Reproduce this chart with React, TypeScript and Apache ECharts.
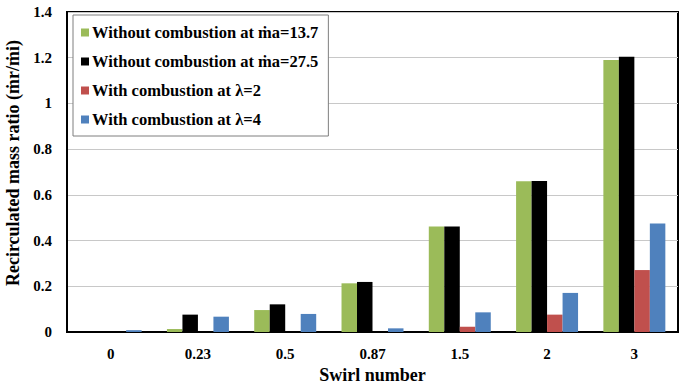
import React, { useEffect, useRef } from "react";
import * as echarts from "echarts";

const categories = ["0", "0.23", "0.5", "0.87", "1.5", "2", "3"];
const seriesNames = [
  "Without combustion at ṁa=13.7",
  "Without combustion at ṁa=27.5",
  "With combustion at λ=2",
  "With combustion at λ=4",
];
const noCombustion137 = [0, 0.013, 0.096, 0.213, 0.462, 0.66, 1.19];
const noCombustion275 = [0, 0.076, 0.121, 0.219, 0.462, 0.661, 1.204];
const combustionL2 = [0, 0, 0, 0, 0.023, 0.076, 0.271];
const combustionL4 = [0.008, 0.067, 0.079, 0.016, 0.086, 0.171, 0.475];
const colors = ["#9BBB59", "#000000", "#C0504D", "#4F81BD"];

const FONT = "'Liberation Serif', 'Times New Roman', serif";

export default function App() {
  const ref = useRef<HTMLDivElement>(null);
  useEffect(() => {
    if (!ref.current) return;
    const chart = echarts.init(ref.current, null, { renderer: "svg" });
    const dataSets = [noCombustion137, noCombustion275, combustionL2, combustionL4];
    chart.setOption({
      animation: false,
      backgroundColor: "#ffffff",
      textStyle: { fontFamily: FONT },
      grid: {
        left: 67,
        right: 8,
        top: 12,
        bottom: 53,
        outerBoundsMode: "none",
        containLabel: false,
        show: true,
        borderColor: "#000000",
        borderWidth: 2,
        backgroundColor: "transparent",
      },
      legend: {
        orient: "vertical",
        left: 73,
        top: 15,
        padding: [9, 10, 8, 8],
        itemGap: 12,
        itemWidth: 8,
        itemHeight: 8,
        icon: "rect",
        backgroundColor: "#ffffff",
        borderColor: "#7F7F7F",
        borderWidth: 1,
        borderRadius: 0,
        textStyle: {
          fontFamily: FONT,
          fontWeight: "bold",
          fontSize: 16.5,
          color: "#000000",
          lineHeight: 16,
          padding: [0, 0, 0, -2],
        },
        data: seriesNames,
      },
      xAxis: {
        type: "category",
        data: categories,
        name: "Swirl number",
        nameLocation: "middle",
        nameGap: 34,
        nameTextStyle: { fontFamily: FONT, fontWeight: "bold", fontSize: 18, color: "#000" },
        axisLine: { lineStyle: { color: "#000", width: 2 } },
        axisTick: { show: false },
        axisLabel: { fontFamily: FONT, fontWeight: "bold", fontSize: 15, color: "#000", margin: 14 },
      },
      yAxis: {
        type: "value",
        min: 0,
        max: 1.4,
        interval: 0.2,
        name: "Recirculated mass ratio (ṁr/ṁi)",
        nameLocation: "middle",
        nameGap: 41,
        nameTextStyle: {
          fontFamily: FONT,
          fontWeight: "bold",
          fontSize: 18,
          color: "#000",
          padding: [0, 0, 0, 18],
        },
        axisLine: { show: true, lineStyle: { color: "#000", width: 2 } },
        axisTick: { show: false },
        axisLabel: { fontFamily: FONT, fontWeight: "bold", fontSize: 15, color: "#000", margin: 15 },
        splitLine: { lineStyle: { color: "#C8C8C8", width: 1 } },
      },
      series: dataSets.map((d, i) => ({
        name: seriesNames[i],
        type: "bar",
        data: d,
        barGap: "0%",
        barCategoryGap: "29%",
        itemStyle: { color: colors[i] },
      })),
    });
    return () => chart.dispose();
  }, []);
  return <div ref={ref} style={{ width: 686, height: 385, position: "absolute", left: 0, top: 0 }} />;
}
